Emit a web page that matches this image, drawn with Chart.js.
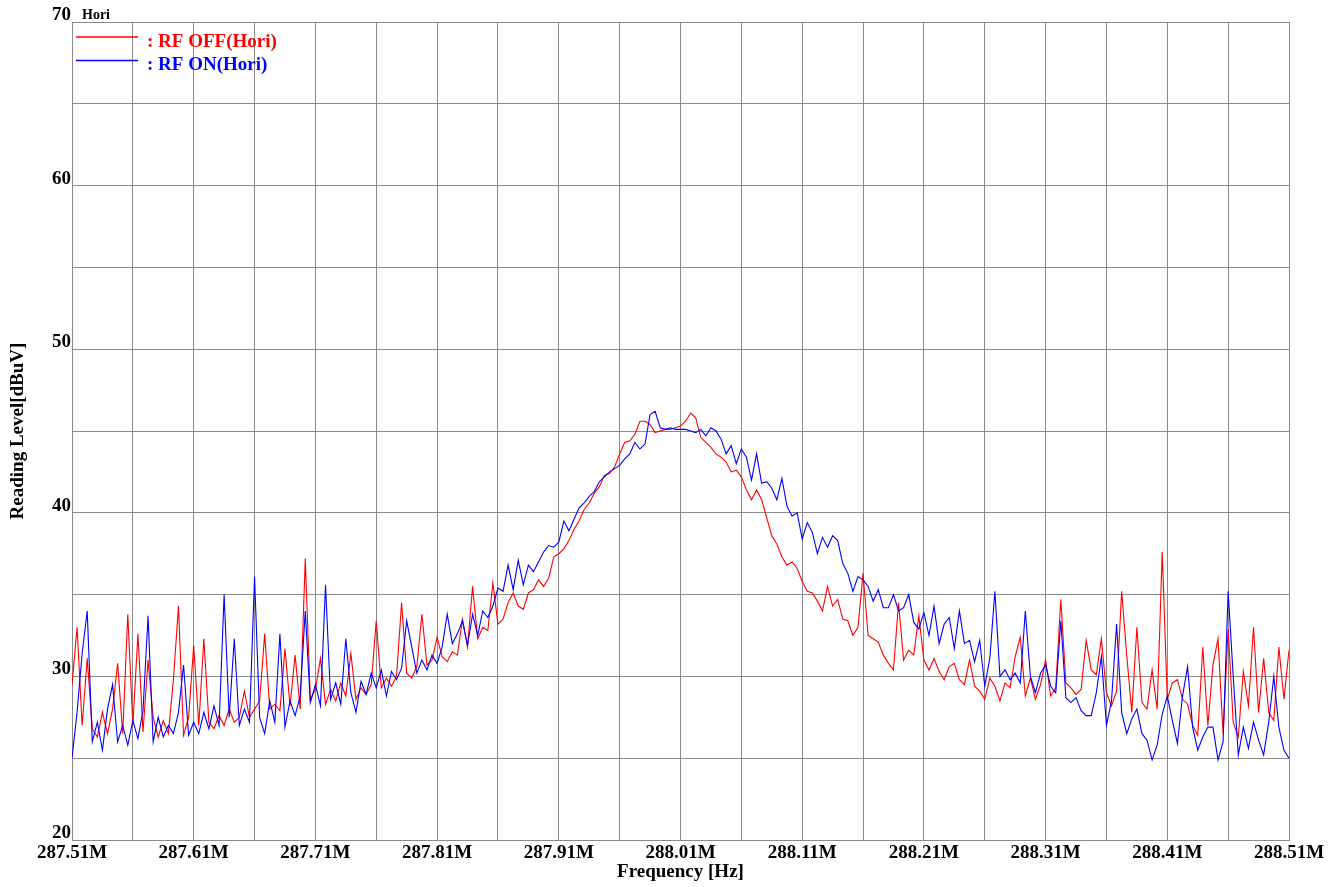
<!DOCTYPE html>
<html lang="en">
<head>
<meta charset="UTF-8">
<title>RF OFF / RF ON (Hori)</title>
<script src="https://cdn.jsdelivr.net/npm/chart.js"></script>
<style>
    html, body { margin: 0; padding: 0; background: #fff; }
    #wrap { width: 1340px; height: 887px; }
</style>
</head>
<body>
<div id="wrap"><canvas id="chart" width="1340" height="887"></canvas></div>
<script>
// sweep 287.51 MHz .. 288.51 MHz at 241 points
const startFreq = 287.51;
const stopFreq = 288.51;
const pointCount = 241;

const seriesNames = [': RF OFF(Hori)', ': RF ON(Hori)'];
const seriesColors = ['#ff0000', '#0000ff'];

// Reading level [dBuV], RF OFF
const rfOff = [
    29.5, 33, 27, 31.1, 26.8, 26.3, 27.8, 26.5, 28, 30.8, 26.5, 33.8,
    27, 32.6, 26.6, 31, 27.5, 26.3, 27.3, 26.5, 29.8, 34.3, 26.4, 27.5,
    31.9, 27, 32.3, 27.2, 26.8, 27.6, 27, 28, 27.2, 27.5, 29.1, 27.5,
    28, 28.5, 32.6, 28, 28.3, 27.9, 31.7, 28.2, 31.3, 28, 37.2, 28.6,
    29.2, 31.1, 28.3, 29.2, 28.5, 29.6, 28.8, 31.4, 28.6, 29.3, 28.9, 29.5,
    33.4, 29.3, 29.9, 29.4, 30, 34.5, 30.2, 29.9, 30.6, 33.8, 30.7, 31,
    32.4, 31.2, 30.9, 31.5, 31.3, 33.5, 31.8, 35.5, 32.3, 33, 32.8, 35.7,
    33.2, 33.5, 34.5, 35.1, 34.3, 34.1, 35.1, 35.3, 35.9, 35.5, 36, 37.3,
    37.5, 37.8, 38.3, 39, 39.5, 40.2, 40.6, 41.2, 41.6, 42.3, 42.4, 42.8,
    43.6, 44.3, 44.4, 44.8, 45.6, 45.6, 45.4, 44.9, 45, 45.1, 45.1, 45.2,
    45.3, 45.6, 46.1, 45.8, 44.6, 44.3, 44, 43.6, 43.4, 43.1, 42.5, 42.6,
    42.2, 41.4, 40.8, 41.4, 40.8, 39.7, 38.6, 38.1, 37.3, 36.8, 37, 36.6,
    35.8, 35.2, 35.1, 34.6, 34, 35.5, 34.3, 34.7, 33.5, 33.4, 32.5, 33,
    36.3, 32.5, 32.3, 32.1, 31.3, 30.8, 30.4, 34.5, 31, 31.6, 31.3, 33.7,
    31, 30.4, 31.1, 30.3, 29.8, 30.6, 30.8, 29.8, 29.5, 31, 29.4, 29.1,
    28.6, 29.9, 29.4, 28.5, 29.6, 29.3, 31.2, 32.4, 28.8, 29.9, 28.6, 29.5,
    31, 28.8, 29.3, 34.7, 29.6, 29.3, 28.9, 29.2, 32.2, 30.4, 30.1, 32.3,
    29, 28.2, 29.1, 35.2, 31.3, 27.8, 33, 28.4, 28, 30.4, 28, 37.6,
    28.6, 29.6, 29.8, 28.6, 28.3, 27, 26.4, 31.8, 27, 30.7, 32.3, 26.5,
    32.9, 27.2, 26.3, 30.3, 28.2, 33, 27.8, 31.1, 27.8, 27.3, 31.8, 28.6,
    31.6
];

// Reading level [dBuV], RF ON
const rfOn = [
    25, 27.8, 31.4, 34, 26, 27.2, 25.5, 28, 29.5, 26, 27, 25.8,
    27.3, 26.2, 27.9, 33.7, 26, 27.5, 26.3, 27, 26.5, 27.8, 30.7, 26.4,
    27.2, 26.5, 27.8, 26.8, 28.2, 27, 35, 27.5, 32.3, 27, 28, 27.2,
    36.1, 27.5, 26.5, 28.5, 27.2, 32.6, 26.9, 28.5, 27.6, 28.8, 34, 28.4,
    29.5, 28.2, 35.6, 28.6, 29.6, 28.3, 32.3, 29, 27.8, 29.7, 28.9, 30.2,
    29.3, 30.4, 28.8, 30.3, 29.8, 30.5, 33.4, 31.8, 30.2, 31, 30.4, 31.3,
    30.8, 31.8, 33.8, 32, 32.6, 33.4, 31.9, 33.8, 32.5, 34, 33.6, 34.3,
    35.4, 35.2, 36.8, 35.3, 37.1, 35.6, 36.8, 36.4, 37, 37.6, 38, 37.9,
    38.2, 39.5, 38.9, 39.6, 40.3, 40.6, 41, 41.3, 41.9, 42.2, 42.5, 42.7,
    42.9, 43.3, 43.6, 44.3, 43.9, 44.2, 46, 46.2, 45.2, 45.1, 45.2, 45.1,
    45.1, 45.1, 45, 44.9, 45.1, 44.7, 45.2, 45, 44.5, 43.6, 44.1, 43,
    43.9, 43.4, 42, 43.6, 41.8, 41.9, 41.5, 40.8, 42.1, 40.4, 39.8, 40,
    38.4, 39.4, 38.8, 37.5, 38.5, 37.9, 38.6, 38.3, 36.9, 36.3, 35.2, 36.1,
    35.9, 35.5, 34.6, 35.3, 34.2, 34.2, 35, 34, 34.2, 35, 33.3, 32.9,
    33.9, 32.5, 34.3, 32, 33.2, 33.6, 31.7, 34, 32, 32.2, 30.9, 32.2,
    29.4, 31.1, 35.2, 30, 30.4, 29.8, 30.2, 29.6, 34, 30, 29, 30.2,
    30.7, 29.4, 29, 33.4, 28.7, 28.4, 28.7, 27.9, 27.6, 27.6, 29, 31.2,
    27, 28.5, 33.2, 27.8, 26.5, 27.4, 28, 26.5, 26.1, 24.9, 25.8, 27.7,
    28.8, 27.3, 25.9, 28.8, 30.6, 26.9, 25.5, 26.3, 26.9, 26.9, 24.9, 26,
    35.2, 30, 25.2, 26.9, 25.6, 27.2, 26.1, 25.2, 27.2, 30, 26.9, 25.5,
    25
];

// labelled every second grid line
const xTickLabels = ['287.51M', '287.61M', '287.71M', '287.81M', '287.91M', '288.01M',
    '288.11M', '288.21M', '288.31M', '288.41M', '288.51M'];
const xGridCount = 21;
const yTickLabels = ['20', '30', '40', '50', '60', '70'];

const freqStep = (stopFreq - startFreq) / (pointCount - 1);
const freqs = rfOff.map((v, i) => startFreq + i * freqStep);
const xGrid = [];
for (let i = 0; i < xGridCount; i++) {
    xGrid.push(startFreq + i * (stopFreq - startFreq) / (xGridCount - 1));
}

const serif = '"Liberation Serif", "Times New Roman", serif';
const gridColor = '#8a8a8a';

// legend + "Hori" label drawn inside the plot, like the original
const overlay = {
    id: 'overlay',
    afterDraw(chart) {
        const ctx = chart.ctx;
        const area = chart.chartArea;
        ctx.save();
        ctx.fillStyle = '#000';
        ctx.font = 'bold 14px ' + serif;
        ctx.textBaseline = 'alphabetic';
        ctx.fillText('Hori', area.left + 10, 19);

        ctx.font = 'bold 19px ' + serif;
        seriesNames.forEach((name, i) => {
            const y = 37 + i * 23.5;
            ctx.strokeStyle = seriesColors[i];
            ctx.lineWidth = 1.6;
            ctx.beginPath();
            ctx.moveTo(area.left + 4, y);
            ctx.lineTo(area.left + 66, y);
            ctx.stroke();
            ctx.fillStyle = seriesColors[i];
            ctx.fillText(name, area.left + 75, y + 9.5);
        });
        ctx.restore();
    }
};

const ctx = document.getElementById('chart').getContext('2d');
new Chart(ctx, {
    type: 'line',
    data: {
        datasets: [
            {
                label: seriesNames[0],
                data: freqs.map((f, i) => ({ x: f, y: rfOff[i] })),
                borderColor: seriesColors[0],
                borderWidth: 1.1,
                pointRadius: 0,
                order: 1
            },
            {
                label: seriesNames[1],
                data: freqs.map((f, i) => ({ x: f, y: rfOn[i] })),
                borderColor: seriesColors[1],
                borderWidth: 1.1,
                pointRadius: 0,
                order: 0
            }
        ]
    },
    options: {
        responsive: false,
        animation: false,
        devicePixelRatio: 1,
        layout: { padding: { top: 22, right: 51, left: 0, bottom: 0 } },
        plugins: {
            legend: { display: false },
            tooltip: { enabled: false }
        },
        scales: {
            x: {
                type: 'linear',
                min: startFreq,
                max: stopFreq,
                afterBuildTicks: scale => {
                    scale.ticks = xGrid.map(v => ({ value: v }));
                },
                afterFit: scale => { scale.height = 47; },
                grid: { color: gridColor, drawTicks: false },
                border: { color: gridColor },
                ticks: {
                    autoSkip: false,
                    maxRotation: 0,
                    padding: 2,
                    color: '#000',
                    font: { family: serif, size: 19, weight: 'bold' },
                    callback: (value, index) => index % 2 === 0 ? xTickLabels[index / 2] : ''
                },
                title: {
                    display: true,
                    text: 'Frequency [Hz]',
                    color: '#000',
                    font: { family: serif, size: 19, weight: 'bold' },
                    padding: { top: 0, bottom: 4 }
                }
            },
            y: {
                min: 20,
                max: 70,
                afterFit: scale => { scale.width = 72; },
                grid: { color: gridColor, drawTicks: false },
                border: { color: gridColor },
                ticks: {
                    stepSize: 5,
                    padding: 1,
                    labelOffset: -7,
                    color: '#000',
                    font: { family: serif, size: 19, weight: 'bold' },
                    callback: value => value % 10 === 0 ? yTickLabels[(value - 20) / 10] : ''
                },
                title: {
                    display: true,
                    text: 'Reading Level[dBuV]',
                    color: '#000',
                    font: { family: serif, size: 19, weight: 'bold' },
                    padding: { top: 7, bottom: 0 }
                }
            }
        }
    },
    plugins: [overlay]
});
</script>
</body>
</html>
